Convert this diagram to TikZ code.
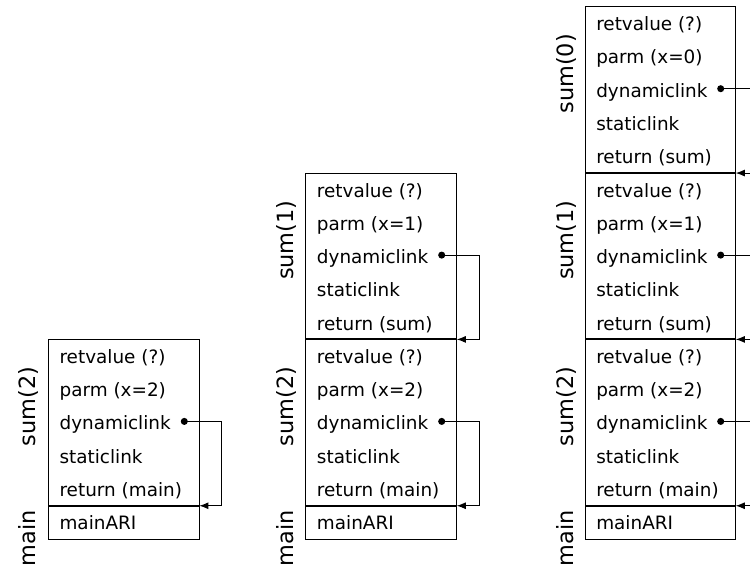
\documentclass[tikz,border=0pt]{standalone}
\usepackage{fontspec}
\setmainfont{DejaVu Sans}
\usetikzlibrary{arrows.meta}

\begin{document}
\begin{tikzpicture}[x=0.75pt,y=0.75pt,yscale=-1,xscale=1,
  field/.style={anchor=base west,inner sep=0.75pt,font=\fontsize{13.8}{16}\selectfont},
  framelabel/.style={anchor=base,rotate=90,inner sep=0.75pt,font=\fontsize{16.8}{19}\selectfont},
  linkdot/.style={circle,fill,inner sep=0pt,minimum size=5.3pt},
  link/.style={-{Latex[length=6.8pt,width=5.2pt]},line width=0.75pt},
  stackbox/.style={line width=0.75pt},
  arisep/.style={line width=1.5pt}]
\useasboundingbox (0,0) rectangle (750,567);
\clip (0,0) rectangle (750,567);

%%% stack a : sum(2) on main
%Shape: Rectangle
\draw [stackbox] (48.3,339.4) rectangle (199.3,539);
\draw [arisep] (48.3,505.75) -- (199.3,505.75);
% Text Node
\node [field] (rva2) at (58.3,363.4) {retvalue (?)};
\node [field] (pma2) at (58.3,396.7) {parm (x=2)};
\node [field] (dka2) at (58.3,429.9) {dynamiclink};
\node [field] (ska2) at (58.3,463.2) {staticlink};
\node [field] (rta2) at (58.3,496.5) {return (main)};
\node [field] (ari-a) at (58.3,529.8) {mainARI};
% Frame labels
\node [framelabel] (lba2) at (35.3,406.6) {sum(2)};
\node [framelabel] (lba-main) at (35.3,538.4) {main};
% Dynamic link
\node [linkdot] (dla2) at (184.3,421.4) {};
\coordinate (reta2) at (199.3,505.75);
\draw [link] (dla2.center) -- ++(37.5,0) |- (reta2);

%%% stack b : sum(1) on sum(2) on main
%Shape: Rectangle
\draw [stackbox] (305.7,173.05) rectangle (456.7,539);
\draw [arisep] (305.7,339.4) -- (456.7,339.4);
\draw [arisep] (305.7,505.75) -- (456.7,505.75);
% Text Node
\node [field] (rvb1) at (315.7,197.1) {retvalue (?)};
\node [field] (pmb1) at (315.7,230.3) {parm (x=1)};
\node [field] (dkb1) at (315.7,263.6) {dynamiclink};
\node [field] (skb1) at (315.7,296.9) {staticlink};
\node [field] (rtb1) at (315.7,330.1) {return (sum)};
\node [field] (rvb2) at (315.7,363.4) {retvalue (?)};
\node [field] (pmb2) at (315.7,396.7) {parm (x=2)};
\node [field] (dkb2) at (315.7,429.9) {dynamiclink};
\node [field] (skb2) at (315.7,463.2) {staticlink};
\node [field] (rtb2) at (315.7,496.5) {return (main)};
\node [field] (ari-b) at (315.7,529.8) {mainARI};
% Frame labels
\node [framelabel] (lbb1) at (293.7,240.2) {sum(1)};
\node [framelabel] (lbb2) at (293.7,406.6) {sum(2)};
\node [framelabel] (lbb-main) at (293.7,538.4) {main};
% Dynamic links
\node [linkdot] (dlb1) at (441.7,255.1) {};
\node [linkdot] (dlb2) at (441.7,421.4) {};
\coordinate (retb1) at (456.7,339.4);
\coordinate (retb2) at (456.7,505.75);
\draw [link] (dlb1.center) -- ++(37.5,0) |- (retb1);
\draw [link] (dlb2.center) -- ++(37.5,0) |- (retb2);

%%% stack c : sum(0) on sum(1) on sum(2) on main
%Shape: Rectangle
\draw [stackbox] (585,6.7) rectangle (735.7,539);
\draw [arisep] (585,173.05) -- (735.7,173.05);
\draw [arisep] (585,339.4) -- (735.7,339.4);
\draw [arisep] (585,505.75) -- (735.7,505.75);
% Text Node
\node [field] (rvc0) at (595,30.7) {retvalue (?)};
\node [field] (pmc0) at (595,64.0) {parm (x=0)};
\node [field] (dkc0) at (595,97.2) {dynamiclink};
\node [field] (skc0) at (595,130.5) {staticlink};
\node [field] (rtc0) at (595,163.8) {return (sum)};
\node [field] (rvc1) at (595,197.1) {retvalue (?)};
\node [field] (pmc1) at (595,230.3) {parm (x=1)};
\node [field] (dkc1) at (595,263.6) {dynamiclink};
\node [field] (skc1) at (595,296.9) {staticlink};
\node [field] (rtc1) at (595,330.1) {return (sum)};
\node [field] (rvc2) at (595,363.4) {retvalue (?)};
\node [field] (pmc2) at (595,396.7) {parm (x=2)};
\node [field] (dkc2) at (595,429.9) {dynamiclink};
\node [field] (skc2) at (595,463.2) {staticlink};
\node [field] (rtc2) at (595,496.5) {return (main)};
\node [field] (ari-c) at (595,529.8) {mainARI};
% Frame labels
\node [framelabel] (lbc0) at (573,73.9) {sum(0)};
\node [framelabel] (lbc1) at (573,240.2) {sum(1)};
\node [framelabel] (lbc2) at (573,406.6) {sum(2)};
\node [framelabel] (lbc-main) at (573,538.4) {main};
% Dynamic links (run off the right edge)
\node [linkdot] (dlc0) at (720.7,88.7) {};
\node [linkdot] (dlc1) at (720.7,255.1) {};
\node [linkdot] (dlc2) at (720.7,421.4) {};
\coordinate (retc0) at (735.7,173.05);
\coordinate (retc1) at (735.7,339.4);
\coordinate (retc2) at (735.7,505.75);
\draw [link] (dlc0.center) -- ++(37.5,0) |- (retc0);
\draw [link] (dlc1.center) -- ++(37.5,0) |- (retc1);
\draw [link] (dlc2.center) -- ++(37.5,0) |- (retc2);
\end{tikzpicture}
\end{document}
